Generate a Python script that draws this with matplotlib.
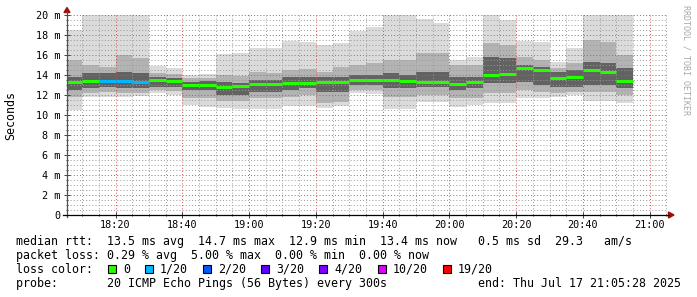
import numpy as np
import pandas as pd
import matplotlib
matplotlib.use('Agg')
import matplotlib.pyplot as plt
import matplotlib.dates as mdates
from matplotlib.ticker import MultipleLocator, FuncFormatter
from matplotlib.patches import Rectangle, Polygon

plt.rcParams['font.family'] = 'DejaVu Sans Mono'

# median rtt per 5 minute step (ms), 18:05 .. 20:50
median = [13.3, 13.4, 13.4, 13.4, 13.3, 13.5, 13.4, 13.0, 13.0, 12.8, 12.9, 13.1,
          13.1, 13.2, 13.2, 13.3, 13.3, 13.5, 13.5, 13.5, 13.4, 13.3, 13.3, 13.1,
          13.3, 14.0, 14.1, 14.7, 14.5, 13.7, 13.8, 14.5, 14.3, 13.4]
# lost pings out of 20
loss = [0, 0, 1, 1, 1, 0, 0, 0, 0, 0, 0, 0, 0, 0, 0, 0, 0, 0, 0, 0, 0, 0, 0, 0,
        0, 0, 0, 0, 0, 0, 0, 0, 0, 0]
# smoke envelopes (ms): outer = min/max ping, mid and inner = pings closer to median
outer_hi = [18.5, 20, 20, 20, 20, 14.9, 14.7, 14.0, 14.1, 16.1, 16.2, 16.7, 16.7, 17.4,
            17.3, 17.0, 17.2, 18.4, 18.8, 20, 20, 19.6, 19.2, 15.5, 15.8, 20, 19.5,
            17.4, 17.3, 15.3, 16.7, 20, 20, 20]
outer_lo = [10.5, 11.8, 11.8, 11.8, 11.9, 12.2, 12.0, 11.0, 10.8, 10.7, 10.6, 10.6, 10.6,
            10.9, 10.9, 10.7, 10.9, 12.2, 12.1, 10.6, 10.6, 11.3, 11.3, 10.8, 11.0, 11.2,
            11.2, 11.7, 11.7, 11.8, 12.0, 11.4, 11.4, 11.2]
mid_hi = [15.5, 15.0, 14.8, 16.0, 15.7, 14.2, 14.1, 13.7, 13.7, 14.0, 13.9, 14.3, 14.2,
          14.5, 14.6, 14.3, 14.8, 15.0, 15.2, 15.5, 15.5, 16.2, 16.2, 15.0, 15.0, 17.2,
          17.0, 15.8, 15.5, 14.7, 15.2, 17.5, 17.3, 16.0]
mid_lo = [11.8, 12.2, 12.3, 12.2, 12.2, 12.5, 12.4, 11.7, 11.7, 11.4, 11.4, 11.7, 11.7,
          11.8, 12.0, 11.2, 11.3, 12.5, 12.5, 11.8, 11.8, 12.0, 12.0, 11.7, 11.7, 12.2,
          12.2, 12.5, 12.3, 12.2, 12.3, 12.3, 12.3, 12.0]
in_hi = [13.8, 14.2, 14.2, 14.3, 14.2, 13.8, 13.7, 13.3, 13.4, 13.3, 13.2, 13.5, 13.5,
         13.8, 13.8, 13.8, 13.8, 14.0, 14.0, 14.2, 14.0, 14.3, 14.3, 13.8, 13.8, 15.8,
         15.7, 15.0, 14.8, 14.3, 14.5, 15.3, 15.2, 14.7]
in_lo = [12.5, 12.7, 12.8, 12.7, 12.7, 12.8, 12.8, 12.5, 12.5, 12.0, 12.0, 12.3, 12.3,
         12.5, 12.7, 12.3, 12.3, 13.0, 13.0, 12.7, 12.7, 12.8, 12.8, 12.5, 12.7, 13.2,
         13.2, 13.3, 13.0, 12.8, 12.8, 13.0, 13.0, 12.7]

loss_steps = [0, 1, 2, 3, 4, 10, 19]
loss_colors = ['#26ff00', '#00b8ff', '#0059ff', '#5e00ff', '#7e00ff', '#dd00ff', '#ff0000']

legend_lines = [
    'median rtt:  13.5 ms avg  14.7 ms max  12.9 ms min  13.4 ms now   0.5 ms sd  29.3   am/s',
    'packet loss: 0.29 % avg  5.00 % max  0.00 % min  0.00 % now',
    'loss color:',
    'probe:       20 ICMP Echo Pings (56 Bytes) every 300s',
]
end_text = 'end: Thu Jul 17 21:05:28 2025'

W, H = 697, 297
fig = plt.figure(figsize=(W / 100, H / 100), dpi=100)
fig.patch.set_facecolor('white')
ax = fig.add_axes([67 / W, (H - 215) / H, 601 / W, 200 / H])

steps = pd.date_range('2025-07-17 18:05', periods=len(median), freq='5min')
xs = mdates.date2num(steps.to_pydatetime())
step_w = 5 / 1440
edges = np.append(xs, xs[-1] + step_w)


def ext(a):
    return np.append(a, a[-1])


# smoke
for lo, hi, alpha in [(outer_lo, outer_hi, 0.14), (mid_lo, mid_hi, 0.18), (in_lo, in_hi, 0.45)]:
    ax.fill_between(edges, ext(lo), ext(hi), step='post', color='black', alpha=alpha,
                    linewidth=0, zorder=1)

# median line coloured by loss
for x, m, l in zip(xs, median, loss):
    c = loss_colors[loss_steps.index(l)]
    ax.hlines(m, x, x + step_w, color=c, linewidth=2.2, capstyle='butt', zorder=5)

ax.set_xlim(mdates.date2num(pd.Timestamp('2025-07-17 18:05:28')),
            mdates.date2num(pd.Timestamp('2025-07-17 21:05:28')))
ax.set_ylim(0, 20)

ax.yaxis.set_major_locator(MultipleLocator(2))
ax.yaxis.set_minor_locator(MultipleLocator(0.5))
ax.yaxis.set_major_formatter(FuncFormatter(lambda v, p: '0' if v == 0 else f'{v:.0f} m'))
ax.xaxis.set_major_locator(mdates.MinuteLocator(byminute=[0, 20, 40]))
ax.xaxis.set_minor_locator(mdates.MinuteLocator(byminute=range(0, 60, 5)))
ax.xaxis.set_major_formatter(mdates.DateFormatter('%H:%M'))

ax.set_axisbelow(False)
ax.grid(which='major', color=(0.85, 0.3, 0.3, 0.4), linestyle=(0, (1, 2.2)), linewidth=0.7)
ax.grid(which='minor', color=(0.6, 0.6, 0.6, 0.35), linestyle=(0, (1, 2.2)), linewidth=0.7)

for s in ax.spines.values():
    s.set_visible(False)
ax.tick_params(which='both', direction='inout', color='#404040', width=0.7, labelsize=7.3)
ax.tick_params(which='major', length=4)
ax.tick_params(which='minor', length=2)
ax.tick_params(axis='y', pad=3)
ax.tick_params(axis='x', pad=1.5)

# overlay in pixel coordinates
ov = fig.add_axes([0, 0, 1, 1], zorder=10)
ov.set_xlim(0, W)
ov.set_ylim(H, 0)
ov.axis('off')
ov.patch.set_alpha(0)

ov.plot([67, 67], [217, 12], color='#505050', linewidth=0.9)
ov.plot([63, 669], [215, 215], color='black', linewidth=0.9)
ov.add_patch(Polygon([[64, 12.5], [70, 12.5], [67, 7.5]], closed=True, color='#a01010'))
ov.add_patch(Polygon([[668.5, 212], [668.5, 218], [674, 215]], closed=True, color='#a01010'))

ov.text(11, 115, 'Seconds', rotation=90, ha='center', va='center', fontsize=8.4)
ov.text(686, 5, 'RRDTOOL / TOBI OETIKER', rotation=-90, ha='center', va='top',
        fontsize=6, color='#a8a8a8')

for i, line in enumerate(legend_lines):
    ov.text(16, 245 + 14 * i, line, ha='left', va='baseline', fontsize=8.4)
ov.text(681, 287, end_text, ha='right', va='baseline', fontsize=8.4)

bx = 108
for step, c in zip(loss_steps, loss_colors):
    label = '0' if step == 0 else f'{step}/20'
    ov.add_patch(Rectangle((bx, 265), 8, 8, facecolor=c, edgecolor='black', linewidth=0.8))
    ov.text(bx + 15, 273, label, ha='left', va='baseline', fontsize=8.4)
    bx = bx + 15 + len(label) * 7.03 + 15

fig.savefig('out.png', dpi=100)
